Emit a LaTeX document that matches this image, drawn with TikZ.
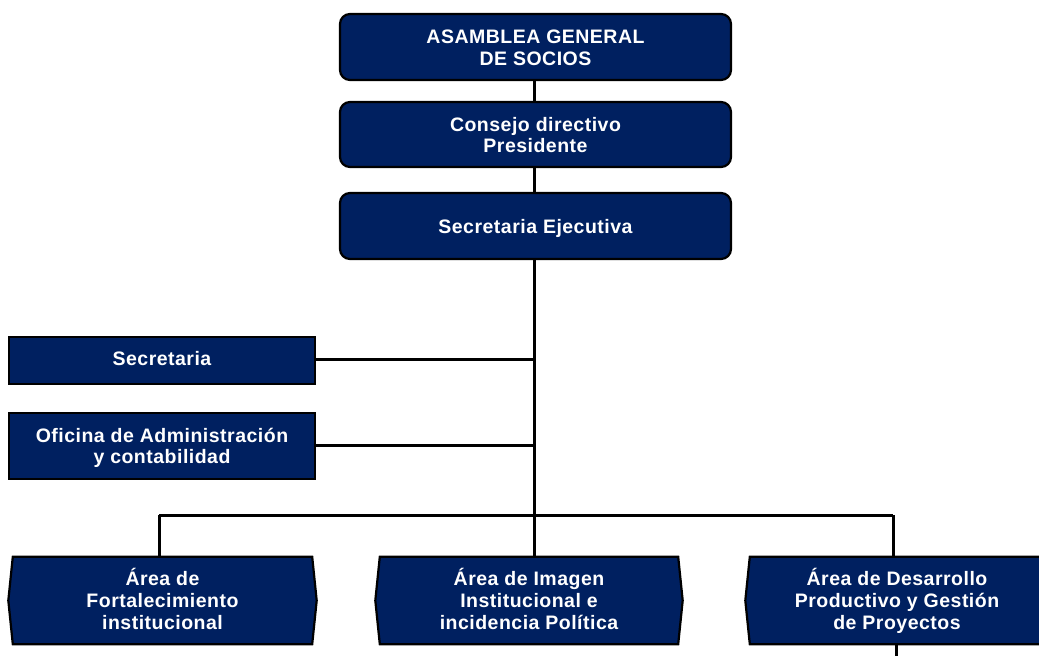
\documentclass[tikz,border=0pt]{standalone}
\usepackage{fontspec}
\setmainfont{Liberation Sans}[LetterSpace=2.5]
\usetikzlibrary{calc}
\definecolor{navy}{RGB}{0,32,96}
\newcommand{\ts}{\rule{0pt}{19pt}}
\newcommand{\bs}{\rule[-5pt]{0pt}{5pt}}
\tikzset{
  lbl/.style={text=white, font=\bfseries\fontsize{19.5}{21.7}\selectfont, align=center, inner sep=0pt},
  box/.style={lbl, draw=black, line width=2.2pt, fill=navy},
  topbox/.style={box, rounded corners=10pt, minimum width=391pt, minimum height=66pt},
  sidebox/.style={box, minimum width=306pt},
  areabox/.style={lbl, minimum height=87pt},
  areashape/.style={draw=black, line width=2.2pt, fill=navy},
  conn/.style={draw=black, line width=3pt}
}
\newcommand{\areapath}[1]{%
  \path[areashape] (#1.north west) -- (#1.north east) -- ($(#1.east)+(4.5,0)$) -- (#1.south east) -- (#1.south west) -- ($(#1.west)+(-4.5,0)$) -- cycle;}
\begin{document}
\begin{tikzpicture}[x=1pt,y=-1pt]
\useasboundingbox (0,0) rectangle (1039,656);
\coordinate (trunk) at (534,515);
\coordinate (bL) at (159,515);
\coordinate (bR) at (893,515);
\coordinate (cOut) at (896,662);
\node[topbox] (asam) at (535.5,47) {\rule{0pt}{20pt}ASAMBLEA GENERAL\\DE SOCIOS\bs};
\node[topbox, minimum height=65pt] (cons) at (535.5,134.5) {\rule{0pt}{20pt}Consejo directivo\\Presidente\bs};
\node[topbox] (sec) at (535.5,226) {\ts Secretaria Ejecutiva\bs};
\node[sidebox, minimum height=47pt] (secr) at (162,360.5) {\ts Secretaria\rule[-9pt]{0pt}{9pt}};
\node[sidebox, minimum height=66pt] (ofi) at (162,446) {\ts Oficina de Administración\\y contabilidad\bs};
\node[areabox, minimum width=299pt] (A) at (162.5,600.5) {};
\node[areabox, minimum width=298pt] (B) at (529,600.5) {};
\node[areabox, minimum width=294pt] (C) at (897,600.5) {};
\draw[conn] (asam.south -| trunk) -- (cons.north -| trunk);
\draw[conn] (cons.south -| trunk) -- (sec.north -| trunk);
\draw[conn] (sec.south -| trunk) -- (trunk);
\draw[conn] ([yshift=1.5pt]secr.east) -- ([yshift=1.5pt]secr.east -| trunk);
\draw[conn] ([yshift=1pt]ofi.east) -- ([yshift=1pt]ofi.east -| trunk);
\draw[conn] (bL) -- (bR);
\draw[conn] (bL) -- (bL |- A.north);
\draw[conn] (trunk) -- (trunk |- B.north);
\draw[conn] (bR) -- (bR |- C.north);
\draw[conn] (C.south -| cOut) -- (cOut);
\areapath{A}
\areapath{B}
\areapath{C}
\node[areabox] at (A) {\ts Área de\\Fortalecimiento\\institucional\bs};
\node[areabox] at (B) {\ts Área de Imagen\\Institucional e\\incidencia Política\bs};
\node[areabox] at (C) {\ts Área de Desarrollo\\Productivo y Gestión\\de Proyectos\bs};
\end{tikzpicture}
\end{document}
